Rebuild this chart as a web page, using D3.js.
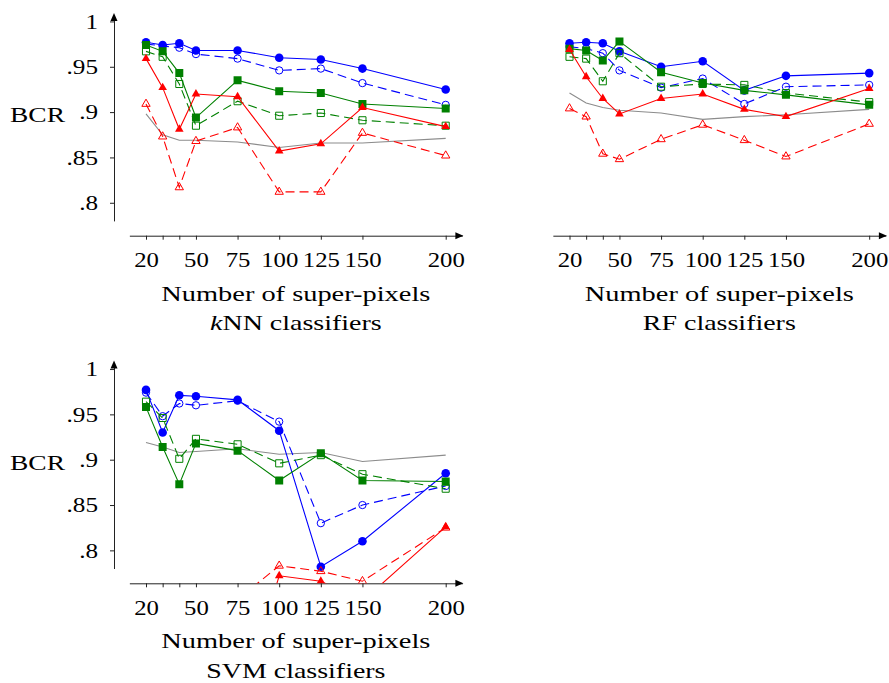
<!DOCTYPE html>
<html>
<head>
<meta charset="utf-8">
<script src="https://cdn.jsdelivr.net/npm/d3@7"></script>
<style>
    body { margin: 0; background: #fff; }
    text { font-family: 'Liberation Serif', 'Times New Roman', serif; fill: #000; }
</style>
</head>
<body>
<svg id="chart" width="889" height="683"></svg>
<script>
// number of super-pixels (x values, same for every series)
var nPixels = [20, 30, 40, 50, 75, 100, 125, 150, 200];
var xTicks = [20, 30, 40, 50, 75, 100, 125, 150, 200];
var xLabelled = [20, 50, 75, 100, 125, 150, 200];
var yTicks = [0.8, 0.85, 0.9, 0.95, 1];

// kNN classifiers
var knnBlueSolid   = [0.977, 0.974, 0.976, 0.968, 0.968, 0.960, 0.958, 0.948, 0.925];
var knnBlueDashed  = [0.975, 0.973, 0.971, 0.964, 0.959, 0.946, 0.948, 0.932, 0.908];
var knnGreenSolid  = [0.974, 0.967, 0.943, 0.894, 0.935, 0.923, 0.921, 0.909, 0.904];
var knnGreenDashed = [0.967, 0.961, 0.931, 0.885, 0.912, 0.896, 0.899, 0.891, 0.885];
var knnRedSolid    = [0.959, 0.927, 0.881, 0.920, 0.917, 0.857, 0.865, 0.905, 0.884];
var knnRedDashed   = [0.909, 0.873, 0.817, 0.868, 0.883, 0.812, 0.812, 0.877, 0.852];
var knnGray        = [0.898, 0.875, 0.869, 0.869, 0.867, 0.861, 0.866, 0.866, 0.871];

// RF classifiers
var rfBlueSolid   = [0.976, 0.977, 0.976, 0.967, 0.950, 0.956, 0.924, 0.940, 0.943];
var rfBlueDashed  = [0.972, 0.970, 0.965, 0.946, 0.927, 0.937, 0.909, 0.928, 0.930];
var rfGreenSolid  = [0.970, 0.968, 0.957, 0.978, 0.944, 0.932, 0.924, 0.919, 0.908];
var rfGreenDashed = [0.961, 0.959, 0.934, 0.965, 0.928, 0.931, 0.930, 0.921, 0.911];
var rfRedSolid    = [0.969, 0.939, 0.915, 0.898, 0.915, 0.920, 0.903, 0.895, 0.926];
var rfRedDashed   = [0.904, 0.895, 0.854, 0.848, 0.870, 0.886, 0.869, 0.851, 0.887];
var rfGray        = [0.921, 0.910, 0.905, 0.902, 0.899, 0.892, 0.895, 0.897, 0.903];

// SVM classifiers (first red values fall below the plotted range)
var svmBlueSolid   = [0.977, 0.930, 0.971, 0.970, 0.966, 0.932, 0.782, 0.810, 0.885];
var svmBlueDashed  = [0.974, 0.948, 0.962, 0.960, 0.965, 0.942, 0.830, 0.850, 0.871];
var svmGreenSolid  = [0.958, 0.914, 0.873, 0.918, 0.910, 0.877, 0.907, 0.877, 0.876];
var svmGreenDashed = [0.964, 0.946, 0.901, 0.923, 0.917, 0.896, 0.905, 0.884, 0.868];
var svmRedSolid    = [0.62, 0.60, 0.58, 0.60, 0.62, 0.772, 0.766, 0.744, 0.826];
var svmRedDashed   = [0.70, 0.72, 0.68, 0.71, 0.746, 0.783, 0.777, 0.766, 0.825];
var svmGray        = [0.919, 0.914, 0.908, 0.909, 0.912, 0.906, 0.908, 0.898, 0.905];

var panels = [
    { id: 'knn', dx: 0, dy: 0, yAxis: true, name: 'kNN',
      series: [knnGray, knnBlueSolid, knnBlueDashed, knnGreenSolid, knnGreenDashed, knnRedSolid, knnRedDashed] },
    { id: 'rf', dx: 423.5, dy: 0, yAxis: false, name: 'RF',
      series: [rfGray, rfBlueSolid, rfBlueDashed, rfGreenSolid, rfGreenDashed, rfRedSolid, rfRedDashed] },
    { id: 'svm', dx: 0, dy: 347.6, yAxis: true, name: 'SVM',
      series: [svmGray, svmBlueSolid, svmBlueDashed, svmGreenSolid, svmGreenDashed, svmRedSolid, svmRedDashed] }
];

// style of each series, same order as panel.series
var styles = [
    { color: '#8c8c8c', dash: null, mark: null },
    { color: '#0000ff', dash: null, mark: 'circle', filled: true },
    { color: '#0000ff', dash: '9,5', mark: 'circle', filled: false },
    { color: '#008000', dash: null, mark: 'square', filled: true },
    { color: '#008000', dash: '9,5', mark: 'square', filled: false },
    { color: '#ff0000', dash: null, mark: 'triangle', filled: true },
    { color: '#ff0000', dash: '9,5', mark: 'triangle', filled: false }
];

// the reference font is wider than Liberation Serif
function stretch(f) {
    return function (sel) {
        sel.each(function () {
            var w = this.getComputedTextLength();
            if (w > 0) {
                d3.select(this)
                    .attr('textLength', w * f)
                    .attr('lengthAdjust', 'spacingAndGlyphs');
            }
        });
    };
}

var svg = d3.select('#chart');
var xAxisY = 235.7;

panels.forEach(function (p) {
    var x = d3.scaleLinear().domain([10, 210]).range([129.35, 462.35]);
    var y = d3.scaleLinear().domain([0.78, 1.005]).range([220.9, 16.9]);

    var g = svg.append('g').attr('transform', 'translate(' + p.dx + ',' + p.dy + ')');

    svg.append('clipPath').attr('id', 'clip-' + p.id)
        .append('rect')
        .attr('x', 120).attr('y', 0)
        .attr('width', 360).attr('height', xAxisY);

    // x axis
    var xAxis = d3.axisBottom(x)
        .tickValues(xTicks)
        .tickSize(4)
        .tickSizeOuter(0)
        .tickPadding(12)
        .tickFormat(function (d) { return xLabelled.indexOf(d) >= 0 ? d : ''; });

    var gx = g.append('g')
        .attr('class', 'x axis')
        .attr('transform', 'translate(0,' + xAxisY + ')')
        .call(xAxis);
    gx.selectAll('text')
        .attr('font-family', null)
        .style('font-size', '21.5px')
        .call(stretch(1.15));
    gx.selectAll('line,path').attr('stroke', '#222');

    g.append('path')
        .attr('d', 'M' + (x.range()[1] + 1) + ',' + xAxisY + 'l-8,-3.5l0,7z')
        .attr('fill', '#000');

    // y axis
    if (p.yAxis) {
        var yAxis = d3.axisLeft(y)
            .tickValues(yTicks)
            .tickSize(4)
            .tickSizeOuter(0)
            .tickPadding(12)
            .tickFormat(function (d) { return d === 1 ? '1' : d3.format('.2~f')(d).replace(/^0/, ''); });
        var gy = g.append('g')
            .attr('class', 'y axis')
            .attr('transform', 'translate(114,0)')
            .call(yAxis);
        gy.selectAll('text')
            .attr('font-family', null)
            .style('font-size', '21.5px')
            .call(stretch(1.17));
        gy.selectAll('line,path').attr('stroke', '#222');

        g.append('path')
            .attr('d', 'M114,13l-3.5,8l7,0z')
            .attr('fill', '#000');

        g.append('text')
            .attr('x', 10)
            .attr('y', 122.3)
            .attr('textLength', 55)
            .attr('lengthAdjust', 'spacingAndGlyphs')
            .style('font-size', '21.5px')
            .text('BCR');
    }

    // axis titles
    var cx = (x.range()[0] + x.range()[1]) / 2;
    g.append('text')
        .attr('x', cx).attr('y', 300.5)
        .attr('text-anchor', 'middle')
        .style('font-size', '21.5px')
        .text('Number of super-pixels')
        .call(stretch(1.32));

    var sub = g.append('text')
        .attr('x', cx).attr('y', 330)
        .attr('text-anchor', 'middle')
        .style('font-size', '21.5px');
    if (p.name === 'kNN') {
        sub.append('tspan').style('font-style', 'italic').text('k');
        sub.append('tspan').text('NN classifiers');
    } else {
        sub.text(p.name + ' classifiers');
    }
    sub.call(stretch(1.3));

    // lines and marks
    var plot = g.append('g').attr('clip-path', 'url(#clip-' + p.id + ')');

    var lineFunc = d3.line()
        .x(function (d) { return x(d.x); })
        .y(function (d) { return y(d.y); });

    p.series.forEach(function (vals, i) {
        var st = styles[i];
        var data = vals.map(function (v, k) { return { x: nPixels[k], y: v }; });

        plot.append('path')
            .attr('d', lineFunc(data))
            .attr('fill', 'none')
            .attr('stroke', st.color)
            .attr('stroke-width', 1.1)
            .attr('stroke-dasharray', st.dash);

        if (!st.mark) return;

        var type = st.mark === 'circle' ? d3.symbolCircle : (st.mark === 'square' ? d3.symbolSquare : d3.symbolTriangle);
        var size;
        if (st.mark === 'circle') size = st.filled ? 58 : 42;
        else if (st.mark === 'square') size = st.filled ? 64 : 50;
        else size = st.filled ? 32 : 30;

        plot.selectAll(null)
            .data(data)
            .enter()
            .append('path')
            .attr('transform', function (d) { return 'translate(' + x(d.x) + ',' + y(d.y) + ')'; })
            .attr('d', d3.symbol().type(type).size(size))
            .attr('fill', st.filled ? st.color : 'none')
            .attr('stroke', st.color)
            .attr('stroke-width', st.filled ? 0 : 1);
    });
});
</script>
</body>
</html>
